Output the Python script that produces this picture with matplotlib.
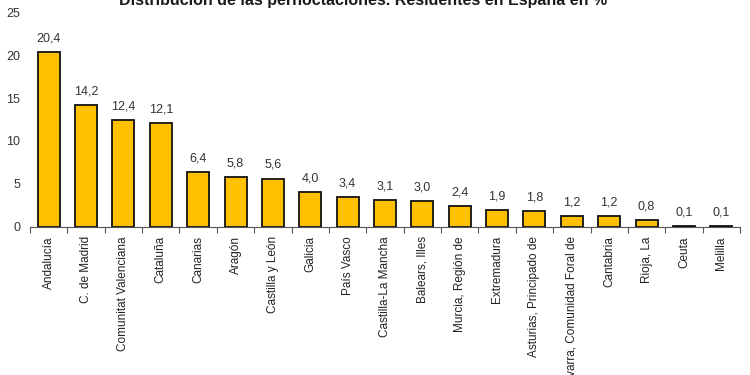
import numpy as np
import matplotlib
matplotlib.use('Agg')
import matplotlib.pyplot as plt

regiones = ['Andalucía', 'C. de Madrid', 'Comunitat Valenciana', 'Cataluña',
            'Canarias', 'Aragón', 'Castilla y León', 'Galicia', 'País Vasco',
            'Castilla-La Mancha', 'Balears, Illes', 'Murcia, Región de',
            'Extremadura', 'Asturias, Principado de',
            'Navarra, Comunidad Foral de', 'Cantabria', 'Rioja, La',
            'Ceuta', 'Melilla']
porcentajes = [20.4, 14.2, 12.4, 12.1, 6.4, 5.8, 5.6, 4.0, 3.4, 3.1,
               3.0, 2.4, 1.9, 1.8, 1.2, 1.2, 0.8, 0.1, 0.1]
y_ticks = [0, 5, 10, 15, 20, 25]

plt.rcParams['font.family'] = ['Liberation Sans', 'DejaVu Sans']

fig = plt.figure(figsize=(7.5, 3.75), dpi=100)
ax = fig.add_axes([30 / 750, 148.5 / 375, 710 / 750, 214 / 375])

x = np.arange(len(regiones))
ax.bar(x, porcentajes, width=0.59, color='#FFC000', edgecolor='#111111',
       linewidth=1.3)

for xi, v in zip(x, porcentajes):
    ax.annotate(('%.1f' % v).replace('.', ','), (xi, v), xytext=(0, 5.5),
                textcoords='offset points', ha='center', va='bottom',
                fontsize=9, color='#333333')

ax.set_xlim(-0.5, len(regiones) - 0.5)
ax.set_ylim(0, 25)
ax.set_yticks(y_ticks)
ax.set_yticklabels([str(t) for t in y_ticks], fontsize=9, color='#333333')
ax.tick_params(axis='y', length=0, pad=7)

ax.set_xticks(x)
ax.set_xticklabels(regiones, rotation=90, fontsize=8.5, color='#222222')
ax.tick_params(axis='x', which='major', length=0, pad=7)
ax.set_xticks(np.arange(-0.5, len(regiones)), minor=True)
ax.tick_params(axis='x', which='minor', length=4, width=0.8, color='#555555')

for s in ['top', 'right', 'left']:
    ax.spines[s].set_visible(False)
ax.spines['bottom'].set_color('#555555')
ax.spines['bottom'].set_linewidth(0.8)

fig.text(363 / 750, 0.998, 'Distribución de las pernoctaciones. Residentes en España en %',
         ha='center', va='center', fontsize=11.5, fontweight='bold',
         color='#1a1a1a')

fig.savefig('out.png', dpi=100)
